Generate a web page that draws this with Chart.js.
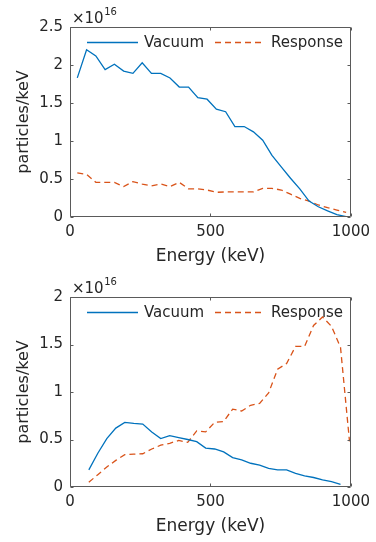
<!DOCTYPE html>
<html><head><meta charset="utf-8">
<script src="https://cdn.jsdelivr.net/npm/chart.js@4/dist/chart.umd.min.js"></script>
<style>
html,body{margin:0;padding:0;background:#fff;}
.box{position:absolute;left:0;width:376px;height:271px;}
</style></head>
<body>
<div class="box" style="top:0"><canvas id="c1" width="376" height="271"></canvas></div>
<div class="box" style="top:271px"><canvas id="c2" width="376" height="271"></canvas></div>
<script>
// ---- data (values in units of 1e16 particles/keV) ----
const energyTop = [26,59,92,125,158,191,224,257,290,323,356,389,422,455,488,521,554,587,620,653,686,719,752,785,818,851,884,917,950,983];
const vacuumTop = [1.83,2.20,2.12,1.94,2.01,1.92,1.89,2.03,1.89,1.89,1.83,1.71,1.71,1.57,1.55,1.42,1.385,1.19,1.19,1.12,1.01,0.81,0.66,0.51,0.37,0.21,0.135,0.08,0.03,0.005];
const responseTop = [0.58,0.56,0.456,0.456,0.456,0.40,0.465,0.434,0.41,0.434,0.40,0.456,0.37,0.37,0.355,0.325,0.33,0.33,0.33,0.33,0.377,0.377,0.355,0.30,0.245,0.21,0.158,0.123,0.092,0.06];

const energyBottomVac = [67,99,131,163,195,227,259,291,323,355,387,419,451,483,515,547,579,611,643,675,707,739,771,803,835,867,899,931,963];
const vacuumBottom = [0.18,0.355,0.51,0.62,0.68,0.67,0.663,0.58,0.51,0.54,0.52,0.50,0.477,0.41,0.40,0.37,0.31,0.285,0.25,0.23,0.195,0.18,0.18,0.144,0.116,0.10,0.074,0.056,0.028];
const energyBottomResp = [67,99,131,163,195,227,259,291,323,355,387,419,451,483,515,547,579,611,643,675,707,739,771,803,835,867,899,931,963,995];
const responseBottom = [0.05,0.13,0.21,0.28,0.34,0.345,0.35,0.40,0.44,0.46,0.49,0.47,0.59,0.58,0.68,0.69,0.82,0.80,0.86,0.88,0.99,1.24,1.30,1.48,1.48,1.70,1.79,1.69,1.47,0.48];

const xTicks = [0, 500, 1000];
const yTicksTop = [0, 0.5, 1, 1.5, 2, 2.5];
const yTicksBottom = [0, 0.5, 1, 1.5, 2];
const seriesNames = ['Vacuum', 'Response'];
const exponentText = ['\u00d710', '16'];
const xTitle = 'Energy (keV)';
const yTitle = 'particles/keV';

const BLUE = '#0072BD';
const ORANGE = '#D95319';
const TEXT = '#262626';
const AXIS = '#5a5a5a';
const FONT = '"DejaVu Sans", sans-serif';

function pts(xs, ys){ return xs.map((x,i)=>({x:x, y:ys[i]})); }

const frame = {
  id:'frame',
  afterDatasetsDraw(chart){
    const {ctx, chartArea:a, scales} = chart;
    const xs = scales.x, ys = scales.y;
    ctx.save();
    ctx.strokeStyle = AXIS; ctx.lineWidth = 1;
    const L = Math.round(a.left)+0.5, R = Math.round(a.right)-0.5, T = Math.round(a.top)+0.5, B = Math.round(a.bottom)-0.5;
    ctx.beginPath();
    ctx.rect(L, T, R-L, B-T);
    const tl = 3;
    xs.ticks.forEach(t=>{
      const px = Math.round(xs.getPixelForValue(t.value))+0.5;
      ctx.moveTo(px, B); ctx.lineTo(px, B-tl);
      ctx.moveTo(px, T); ctx.lineTo(px, T+tl);
    });
    ys.ticks.forEach(t=>{
      const py = Math.round(ys.getPixelForValue(t.value))+0.5;
      ctx.moveTo(L, py); ctx.lineTo(L+tl, py);
      ctx.moveTo(R, py); ctx.lineTo(R-tl, py);
    });
    ctx.stroke();

    // exponent label
    ctx.fillStyle = TEXT;
    ctx.textBaseline = 'alphabetic';
    ctx.textAlign = 'left';
    ctx.font = '15px ' + FONT;
    const ex = a.left + 2;
    ctx.fillText(exponentText[0], ex, a.top - 4);
    const w = ctx.measureText(exponentText[0]).width;
    ctx.font = '10px ' + FONT;
    ctx.fillText(exponentText[1], ex + w + 0.5, a.top - 12);

    // legend
    const ly = Math.round(a.top + 14.7) + 0.5;
    ctx.font = '15px ' + FONT;
    ctx.textBaseline = 'middle';
    chart.data.datasets.forEach((ds, i)=>{
      const x0 = i === 0 ? 87 : 215;
      const x1 = i === 0 ? 138 : 264;
      const tx = i === 0 ? 144 : 271;
      ctx.strokeStyle = ds.borderColor;
      ctx.lineWidth = ds.borderWidth;
      ctx.setLineDash(ds.borderDash || []);
      ctx.beginPath(); ctx.moveTo(x0, ly); ctx.lineTo(x1, ly); ctx.stroke();
      ctx.setLineDash([]);
      ctx.fillStyle = TEXT;
      ctx.fillText(ds.label, tx, ly + 1);
    });
    ctx.restore();
  }
};

function makeChart(id, vx, vy, rx, ry, yMax, yTicks, padTop, xHeight, titlePadBottom){
  return new Chart(document.getElementById(id), {
    type:'line',
    data:{
      datasets:[
        {label:seriesNames[0], data:pts(vx, vy), borderColor:BLUE, borderWidth:1.3, pointRadius:0, fill:false, tension:0},
        {label:seriesNames[1], data:pts(rx, ry), borderColor:ORANGE, borderWidth:1.3, borderDash:[6,4], pointRadius:0, fill:false, tension:0}
      ]
    },
    options:{
      responsive:false, animation:false, devicePixelRatio:1,
      layout:{padding:{left:0, right:23, top:padTop, bottom:0}},
      plugins:{legend:{display:false}, tooltip:{enabled:false}},
      scales:{
        x:{
          type:'linear', min:0, max:1000,
          afterBuildTicks: s => { s.ticks = xTicks.map(v=>({value:v})); },
          ticks:{font:{family:FONT, size:15}, color:TEXT, padding:6, maxRotation:0, callback:v=>String(v)},
          grid:{display:false, drawTicks:false}, border:{display:false},
          title:{display:true, text:xTitle, font:{family:FONT, size:17}, color:TEXT, padding:{top:0, bottom:titlePadBottom}},
          afterFit: s => { s.height = xHeight; }
        },
        y:{
          type:'linear', min:0, max:yMax,
          afterBuildTicks: s => { s.ticks = yTicks.map(v=>({value:v})); },
          ticks:{font:{family:FONT, size:15}, color:TEXT, padding:7, callback:v=>String(v)},
          grid:{display:false, drawTicks:false}, border:{display:false},
          title:{display:true, text:yTitle, font:{family:FONT, size:16}, color:TEXT, padding:{top:14, bottom:0}},
          afterFit: s => { s.width = 70; }
        }
      }
    },
    plugins:[frame]
  });
}

makeChart('c1', energyTop, vacuumTop, energyTop, responseTop, 2.5, yTicksTop, 27, 54, 4);
makeChart('c2', energyBottomVac, vacuumBottom, energyBottomResp, responseBottom, 2, yTicksBottom, 26, 55, 5);
</script>
</body></html>
